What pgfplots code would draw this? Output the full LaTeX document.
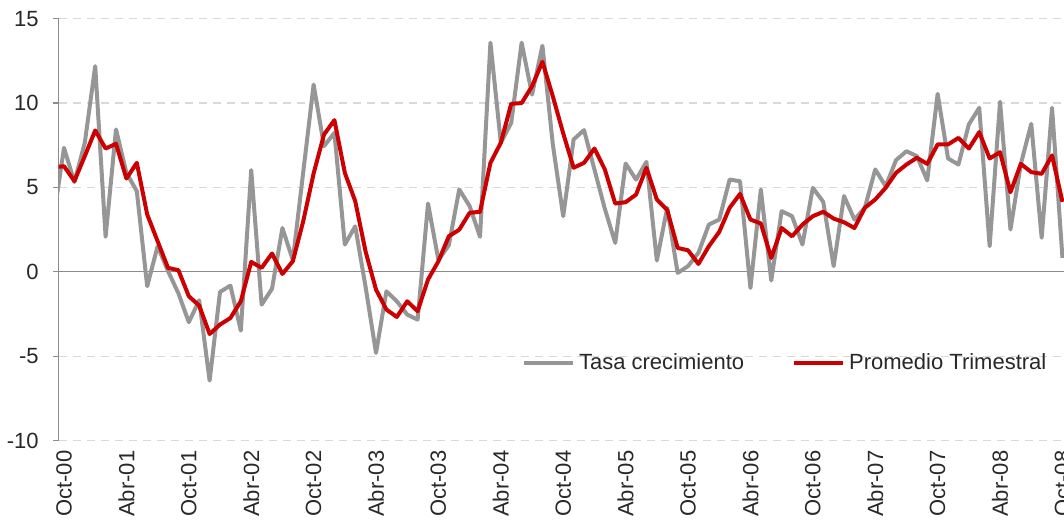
\documentclass[border=0pt]{standalone}
\usepackage{fontspec}
\setmainfont{Liberation Sans}
\usepackage{pgfplots}
\pgfplotsset{compat=1.18}
\usepackage{pgfplotstable}
\definecolor{greyline}{RGB}{150,150,150}
\definecolor{redline}{RGB}{204,0,0}
\definecolor{gridc}{RGB}{217,217,217}
\definecolor{axisc}{RGB}{140,140,140}
\definecolor{txt}{RGB}{40,40,40}

\pgfplotstableread{
j g r
-1 3.2 6.2
0 7.35 6.26
1 5.32 5.38
2 7.65 6.86
3 12.19 8.38
4 2.08 7.31
5 8.44 7.59
6 5.87 5.53
7 4.78 6.46
8 -0.85 3.40
9 1.52 1.82
10 0.05 0.24
11 -1.27 0.10
12 -2.98 -1.44
13 -1.68 -2.00
14 -6.44 -3.68
15 -1.19 -3.12
16 -0.81 -2.73
17 -3.48 -1.74
18 6.03 0.59
19 -1.94 0.24
20 -1.00 1.09
21 2.60 -0.12
22 0.70 0.63
23 5.90 3.00
24 11.10 5.83
25 7.45 8.14
26 8.24 8.99
27 1.62 5.87
28 2.70 4.19
29 -0.90 1.20
30 -4.80 -1.05
31 -1.15 -2.23
32 -1.74 -2.67
33 -2.53 -1.74
34 -2.83 -2.33
35 4.05 -0.45
36 0.70 0.63
37 1.58 2.11
38 4.88 2.50
39 3.90 3.50
40 2.08 3.56
41 13.58 6.46
42 7.65 7.65
43 8.83 9.96
44 13.58 10.00
45 10.50 11.00
46 13.40 12.45
47 7.55 10.40
48 3.30 8.20
49 7.85 6.17
50 8.40 6.46
51 6.07 7.31
52 3.74 6.07
53 1.72 4.05
54 6.42 4.13
55 5.47 4.58
56 6.52 6.17
57 0.67 4.29
58 3.80 3.66
59 -0.06 1.42
60 0.34 1.28
61 1.13 0.47
62 2.80 1.52
63 3.10 2.37
64 5.47 3.80
65 5.37 4.62
66 -0.95 3.10
67 4.88 2.87
68 -0.51 0.83
69 3.60 2.60
70 3.30 2.11
71 1.62 2.80
72 4.98 3.30
73 4.15 3.56
74 0.34 3.16
75 4.49 2.94
76 3.10 2.60
77 3.80 3.80
78 6.07 4.29
79 5.08 4.98
80 6.62 5.87
81 7.15 6.36
82 6.86 6.76
83 5.42 6.40
84 10.55 7.55
85 6.72 7.55
86 6.36 7.94
87 8.74 7.31
88 9.72 8.28
89 1.52 6.72
90 10.08 7.09
91 2.51 4.72
92 6.40 6.40
93 8.77 5.91
94 2.02 5.81
95 9.72 6.90
96 0.83 4.15
}\datatable

\begin{document}
\begin{tikzpicture}[font=\fontsize{11pt}{13.2pt}\selectfont, text=txt]
\begin{axis}[
  name=ax,
  scale only axis,
  width=502.65pt, height=211pt,
  xmin=-0.51, xmax=96.15,
  ymin=-10, ymax=15,
  axis x line*=bottom, axis y line*=left,
  x axis line style={draw=none},
  y axis line style={axisc, line width=0.6pt},
  xtick={0,6,...,96},
  xticklabels={Oct-00,Abr-01,Oct-01,Abr-02,Oct-02,Abr-03,Oct-03,Abr-04,Oct-04,Abr-05,Oct-05,Abr-06,Oct-06,Abr-07,Oct-07,Abr-08,Oct-08},
  x tick style={draw=none},
  xticklabel style={rotate=90, anchor=east, inner sep=0pt, xshift=-2pt, text=txt},
  ytick={-10,-5,0,5,10,15},
  yticklabels={-10,-5,0,5,10,15},
  y tick style={axisc, line width=0.6pt},
  tick align=outside,
  major tick length=2.8pt,
  yticklabel style={anchor=east, inner sep=0pt, xshift=-7pt, text=txt},
  ymajorgrids,
  major grid style={gridc, line width=0.6pt, dash pattern=on 4pt off 3pt},
  legend columns=2,
  legend style={at={(rel axis cs:0.4609,0.184)}, anchor=west, draw=none, fill=none,
    inner sep=0pt, outer sep=0pt, text=txt,
    /tikz/every even column/.append style={column sep=22pt}},
  legend image code/.code={\draw[#1] (0pt,0pt) -- (24.5pt,0pt);},
  clip=true,
]
\addplot[axisc, line width=0.6pt, forget plot] coordinates {(-1,0) (97,0)};
\addplot[greyline, line width=2pt, line join=round] table[x=j, y=g] {\datatable};
\addlegendentry{Tasa crecimiento}
\addplot[redline, line width=2pt, line join=round] table[x=j, y=r] {\datatable};
\addlegendentry{Promedio Trimestral}
\end{axis}
\pgfresetboundingbox
\path[use as bounding box] ([shift={(-29.35pt,-41.65pt)}]ax.south west) rectangle ([shift={(0pt,9.35pt)}]ax.north east);
\end{tikzpicture}
\end{document}
